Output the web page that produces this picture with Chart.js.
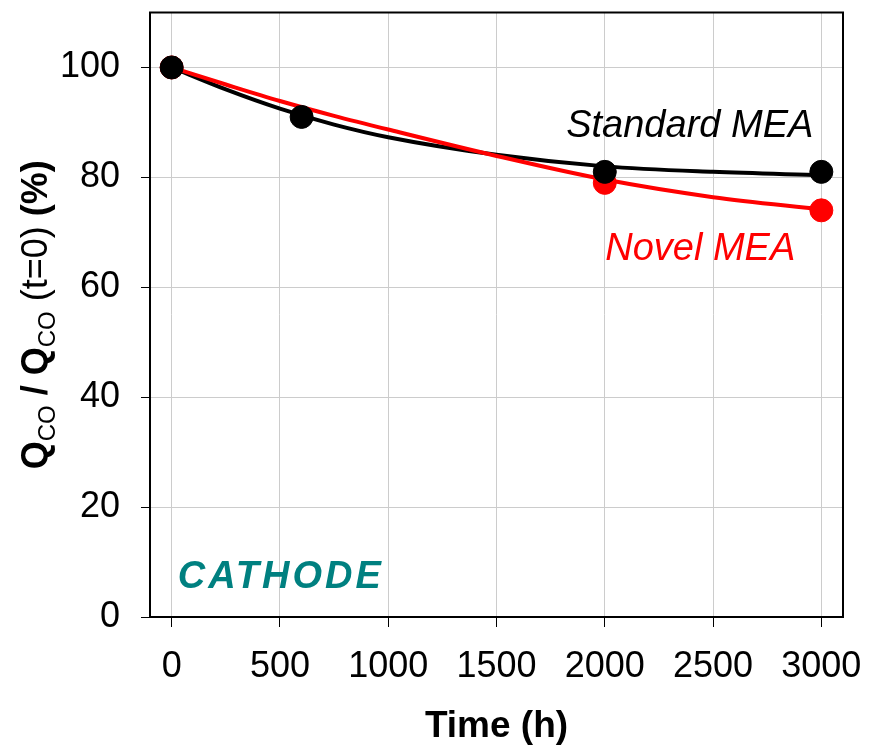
<!DOCTYPE html>
<html>
<head>
<meta charset="utf-8">
<script src="https://cdn.jsdelivr.net/npm/chart.js@4.4.1/dist/chart.umd.min.js"></script>
<style>
  html, body { margin: 0; padding: 0; background: #fff; }
  #wrap { width: 876px; height: 752px; }
</style>
</head>
<body>
<div id="wrap"><canvas id="cathodeChart" width="876" height="752"></canvas></div>
<script>
// measured points
var timeStandard = [0, 600, 2000, 3000];
var standardMea = [100, 91, 81, 81];
var timeNovel = [0, 2000, 3000];
var novelMea = [100, 79, 74];

// trend curves
var fitTime = [0, 250, 500, 750, 1000, 1500, 2000, 2500, 3000];
var standardFit = [100, 96.0, 92.5, 89.6, 87.3, 84.1, 82.0, 81.0, 80.4];
var novelFit = [100, 96.9, 93.9, 91.2, 88.7, 83.9, 79.6, 76.4, 74.2];

var xTicks = [0, 500, 1000, 1500, 2000, 2500, 3000];
var yTicks = [0, 20, 40, 60, 80, 100];

var FONT = '"Liberation Sans", Arial, sans-serif';

function pairs(xs, ys) {
    return xs.map(function (x, i) { return { x: x, y: ys[i] }; });
}

// text labels inside the plot, anchored in data units
var notes = [
    { text: 'Standard MEA', x: 2963, y: 87.3, align: 'right', color: '#000000', font: 'italic 38px ' + FONT, spacing: '0px' },
    { text: 'Novel MEA', x: 2002, y: 65.0, align: 'left', color: '#ff0000', font: 'italic 38px ' + FONT, spacing: '0px' },
    { text: 'CATHODE', x: 28, y: 5.3, align: 'left', color: '#008080', font: 'italic bold 38px ' + FONT, spacing: '3px' }
];

function noPad(s) {
    s.paddingTop = 0;
    s.paddingBottom = 0;
    s.paddingLeft = 0;
    s.paddingRight = 0;
}

const framePlugin = {
    id: 'frame',
    beforeDatasetsDraw(chart) {
        const a = chart.chartArea;
        const ctx = chart.ctx;
        ctx.save();
        ctx.strokeStyle = '#000';
        ctx.lineWidth = 2;
        ctx.strokeRect(a.left, a.top, a.right - a.left, a.bottom - a.top);
        ctx.restore();
    },
    afterDatasetsDraw(chart) {
        const ctx = chart.ctx;
        const xs = chart.scales.x, ys = chart.scales.y;
        ctx.save();
        ctx.textBaseline = 'alphabetic';
        notes.forEach(function (n) {
            ctx.font = n.font;
            ctx.letterSpacing = n.spacing;
            ctx.fillStyle = n.color;
            ctx.textAlign = n.align;
            ctx.fillText(n.text, xs.getPixelForValue(n.x), ys.getPixelForValue(n.y));
        });
        ctx.restore();

        // y axis title with subscripts
        const parts = [
            { t: 'Q', f: 'bold 36px ' + FONT, sub: false },
            { t: 'CO', f: '24px ' + FONT, sub: true },
            { t: ' / ', f: 'bold 36px ' + FONT, sub: false },
            { t: 'Q', f: 'bold 36px ' + FONT, sub: false },
            { t: 'CO', f: '24px ' + FONT, sub: true },
            { t: ' (t=0)', f: '36px ' + FONT, sub: false },
            { t: ' (%)', f: 'bold 36px ' + FONT, sub: false }
        ];
        ctx.save();
        let total = 0;
        parts.forEach(function (p) { ctx.font = p.f; p.w = ctx.measureText(p.t).width; total += p.w; });
        const a = chart.chartArea;
        ctx.translate(47, (a.top + a.bottom) / 2);
        ctx.rotate(-Math.PI / 2);
        ctx.fillStyle = '#000';
        ctx.textAlign = 'left';
        ctx.textBaseline = 'alphabetic';
        let px = -total / 2;
        parts.forEach(function (p) {
            ctx.font = p.f;
            ctx.fillText(p.t, px, p.sub ? 8 : 0);
            px += p.w;
        });
        ctx.restore();
    }
};

const cathodeConfig = {
    type: 'scatter',
    data: {
        datasets: [
            {
                label: 'Standard MEA fit',
                type: 'line',
                data: pairs(fitTime, standardFit),
                borderColor: '#000000',
                borderWidth: 4,
                pointRadius: 0,
                cubicInterpolationMode: 'monotone',
                fill: false,
                order: 4
            },
            {
                label: 'Novel MEA fit',
                type: 'line',
                data: pairs(fitTime, novelFit),
                borderColor: '#ff0000',
                borderWidth: 4,
                pointRadius: 0,
                cubicInterpolationMode: 'monotone',
                fill: false,
                order: 3
            },
            {
                label: 'Novel MEA',
                data: pairs(timeNovel, novelMea),
                backgroundColor: '#ff0000',
                borderColor: '#ff0000',
                pointRadius: 11.5,
                order: 2
            },
            {
                label: 'Standard MEA',
                data: pairs(timeStandard, standardMea),
                backgroundColor: '#000000',
                borderColor: '#000000',
                pointRadius: 11.5,
                order: 1
            }
        ]
    },
    options: {
        responsive: false,
        animation: false,
        layout: { padding: { top: 10, right: 33, left: 0, bottom: 0 } },
        plugins: {
            legend: { display: false },
            tooltip: { enabled: false }
        },
        scales: {
            x: {
                type: 'linear',
                min: -100,
                max: 3100,
                afterBuildTicks: function (s) { s.ticks = xTicks.map(function (v) { return { value: v }; }); },
                afterFit: function (s) { s.height = 135; noPad(s); },
                grid: { color: '#cccccc', lineWidth: 1, tickColor: '#000', tickLength: 10 },
                border: { display: false },
                ticks: {
                    color: '#000',
                    font: { family: FONT, size: 36 },
                    padding: 18,
                    maxRotation: 0,
                    callback: function (v) { return String(v); }
                },
                title: {
                    display: true,
                    text: 'Time (h)',
                    color: '#000',
                    font: { family: FONT, size: 37, weight: 'bold' },
                    padding: { top: 0, bottom: 3 }
                }
            },
            y: {
                min: 0,
                max: 110,
                afterBuildTicks: function (s) { s.ticks = yTicks.map(function (v) { return { value: v }; }); },
                afterFit: function (s) { s.width = 150; noPad(s); },
                grid: { color: '#cccccc', lineWidth: 1, tickColor: '#000', tickLength: 9 },
                border: { display: false },
                ticks: { color: '#000', font: { family: FONT, size: 36 }, padding: 21 }
            }
        }
    },
    plugins: [framePlugin]
};

const cathodeChart = new Chart(
    document.getElementById('cathodeChart'),
    cathodeConfig
);
</script>
</body>
</html>
